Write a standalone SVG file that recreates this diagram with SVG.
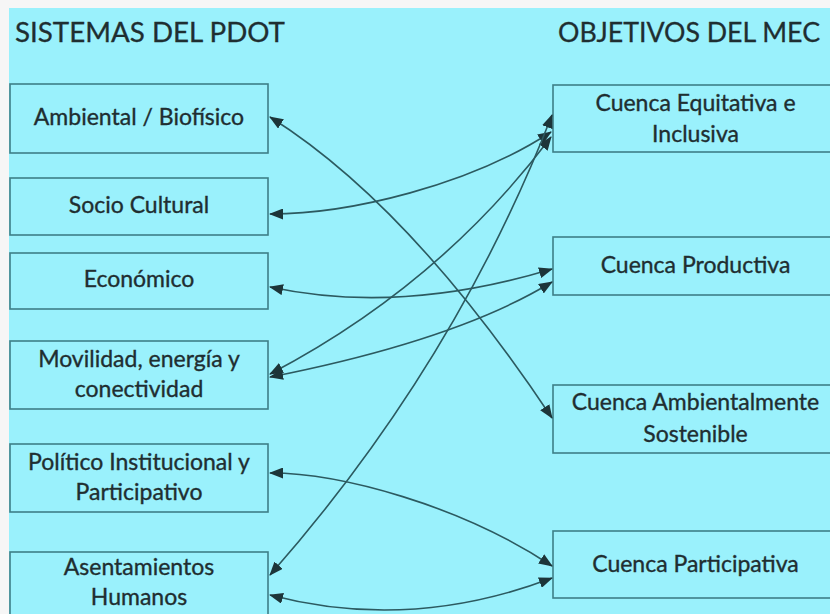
<svg xmlns="http://www.w3.org/2000/svg" width="830" height="614" viewBox="0 0 830 614">
<style>
.box{fill:#9af1fc;stroke:#3e7f87;stroke-width:1.6}
.t{font-family:Lato,"Open Sans","Liberation Sans",sans-serif;font-size:23px;fill:#1f2e31;stroke:#1f2e31;stroke-width:0.35;text-anchor:middle}
.h{font-family:Lato,"Open Sans","Liberation Sans",sans-serif;font-size:26px;fill:#1f2e31;stroke:#1f2e31;stroke-width:0.3}
.c{fill:none;stroke:#2c5a60;stroke-width:1.6;marker-start:url(#ah);marker-end:url(#ah)}
</style>
<defs>
<marker id="ah" markerUnits="userSpaceOnUse" markerWidth="14" markerHeight="11" refX="13" refY="5.5" orient="auto-start-reverse" viewBox="0 0 14 11">
<path d="M0,0 L14,5.5 L0,11 z" fill="#1d3539"/>
</marker>
</defs>
<rect x="0" y="0" width="830" height="614" fill="#f6f6f6"/>
<rect x="9" y="8" width="821" height="606" fill="#9af1fc"/>
<text class="h" x="15" y="42" textLength="270" lengthAdjust="spacingAndGlyphs">SISTEMAS DEL PDOT</text>
<text class="h" x="558" y="42" textLength="262" lengthAdjust="spacingAndGlyphs">OBJETIVOS DEL MEC</text>

<g id="n-ambiental"><rect class="box" x="10" y="84" width="258" height="69"/><text class="t" x="139" y="125">Ambiental / Biofísico</text></g>
<g id="n-socio"><rect class="box" x="10" y="178" width="258" height="57"/><text class="t" x="139" y="213">Socio Cultural</text></g>
<g id="n-economico"><rect class="box" x="10" y="253" width="258" height="56"/><text class="t" x="139" y="287">Económico</text></g>
<g id="n-movilidad"><rect class="box" x="10" y="341" width="258" height="68"/><text class="t" x="139" y="367">Movilidad, energía y</text><text class="t" x="139" y="397">conectividad</text></g>
<g id="n-politico"><rect class="box" x="10" y="444" width="258" height="68"/><text class="t" x="139" y="470">Político Institucional y</text><text class="t" x="139" y="500">Participativo</text></g>
<g id="n-asentamientos"><rect class="box" x="10" y="552" width="258" height="70"/><text class="t" x="139" y="575">Asentamientos</text><text class="t" x="139" y="605">Humanos</text></g>

<g id="n-equitativa"><rect class="box" x="553" y="85" width="285" height="67"/><text class="t" x="695.5" y="111">Cuenca Equitativa e</text><text class="t" x="695.5" y="142">Inclusiva</text></g>
<g id="n-productiva"><rect class="box" x="553" y="237" width="285" height="58"/><text class="t" x="695.5" y="273">Cuenca Productiva</text></g>
<g id="n-ambientalmente"><rect class="box" x="553" y="385" width="285" height="68"/><text class="t" x="695.5" y="410">Cuenca Ambientalmente</text><text class="t" x="695.5" y="442">Sostenible</text></g>
<g id="n-participativa"><rect class="box" x="553" y="531" width="285" height="67"/><text class="t" x="695.5" y="572">Cuenca Participativa</text></g>

<g id="connectors">
<path class="c" d="M270,117 Q410,205 552,418"/>
<path class="c" d="M270,214 C350,214 470,185 551,132"/>
<path class="c" d="M270,287 Q400,315 552,269"/>
<path class="c" d="M270,374 Q440,285 551,137"/>
<path class="c" d="M270,377 Q457,340 552,282"/>
<path class="c" d="M270,575 Q455,365 552,115"/>
<path class="c" d="M270,473 C340,473 460,505 552,566"/>
<path class="c" d="M270,595 Q410,632 552,578"/>
</g>
</svg>
